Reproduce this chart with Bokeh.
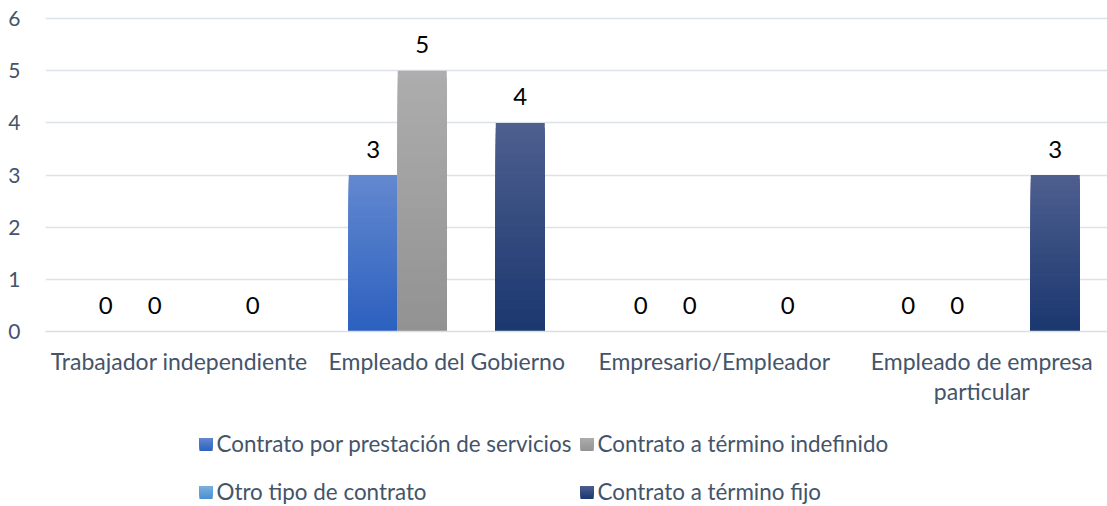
from bokeh.plotting import figure
from bokeh.layouts import column
from bokeh.models import Range1d, FixedTicker
from bokeh.core.properties import value
from bokeh.embed import file_html
from bokeh.resources import INLINE

categories = ["Trabajador independiente", "Empleado del Gobierno",
              "Empresario/Empleador", "Empleado de empresa\nparticular"]
series_names = ["Contrato por prestación de servicios", "Contrato a término indefinido",
                "Otro tipo de contrato", "Contrato a término fijo"]
servicios = [0, 3, 0, 0]
indefinido = [0, 5, 0, 0]
otro = [None, None, None, None]
fijo = [0, 4, 0, 3]
y_ticks = [0, 1, 2, 3, 4, 5, 6]

series_values = [servicios, indefinido, otro, fijo]
grad_top = ["#6388CF", "#ADADAD", "#7DB0E0", "#4E5F8F"]
grad_bottom = ["#2C61BF", "#929292", "#4A8FD0", "#1A376F"]

FONT = "Lato"
TXT = "#44546A"
W = 1107
H_MAIN = 416
H_LEG = 90
LEFT = 45

p = figure(width=W, height=H_MAIN, output_backend="svg", toolbar_location=None,
           x_range=Range1d(0, 3.97), y_range=Range1d(0, 6.04),
           min_border_left=LEFT, min_border_right=0, min_border_top=16, min_border_bottom=85)
p.outline_line_color = None
p.background_fill_color = "white"
p.border_fill_color = "white"

bar_w = 0.1832
centers = [i + 0.5 for i in range(len(categories))]

def hex2rgb(h):
    h = h.lstrip("#")
    return [int(h[k:k + 2], 16) for k in (0, 2, 4)]

def mix(c1, c2, t):
    a, b = hex2rgb(c1), hex2rgb(c2)
    return "#%02x%02x%02x" % tuple(int(round(a[k] + (b[k] - a[k]) * t)) for k in range(3))

N = 40
lbl_x, lbl_y, lbl_t = [], [], []
for si, vals in enumerate(series_values):
    L, R, B, T, C = [], [], [], [], []
    for ci, v in enumerate(vals):
        if v is None:
            continue
        xc = centers[ci] + (si - 1.5) * bar_w
        lbl_x.append(xc)
        lbl_y.append(v)
        lbl_t.append(str(v))
        if v > 0:
            # slices drawn from the top down, each reaching the base -> no seams
            for k in range(N - 1, -1, -1):
                L.append(xc - bar_w / 2)
                R.append(xc + bar_w / 2)
                B.append(0)
                T.append(v * (k + 1) / N)
                C.append(mix(grad_bottom[si], grad_top[si], (k + 0.5) / N))
    if L:
        p.quad(left=L, right=R, bottom=B, top=T, fill_color=C, line_color=None)

p.text(x=lbl_x, y=lbl_y, text=lbl_t, text_align="center", text_baseline="middle",
       y_offset=-26, text_font=value(FONT), text_font_size="24px", text_color="#000000")

# axes
p.xaxis.ticker = FixedTicker(ticks=centers)
p.xaxis.major_label_overrides = {c: lab for c, lab in zip(centers, categories)}
p.xaxis.major_tick_line_color = None
p.xaxis.minor_tick_line_color = None
p.xaxis.axis_line_color = "#D9DEE6"
p.xaxis.axis_line_width = 1.5
p.xaxis.major_label_standoff = 9
p.xaxis.major_label_text_font = FONT
p.xaxis.major_label_text_font_size = "23px"
p.xaxis.major_label_text_line_height = 1.08
p.xaxis.major_label_text_color = TXT

p.yaxis.ticker = FixedTicker(ticks=y_ticks)
p.yaxis.major_tick_line_color = None
p.yaxis.minor_tick_line_color = None
p.yaxis.axis_line_color = None
p.yaxis.major_label_standoff = 19
p.yaxis.major_label_text_font = FONT
p.yaxis.major_label_text_font_size = "21px"
p.yaxis.major_label_text_color = TXT

p.xgrid.grid_line_color = None
p.ygrid.grid_line_color = "#DDE2E9"
p.ygrid.grid_line_width = 1.5

# legend panel (pixel coordinates of the page; its frame is aligned with the chart frame)
lg = figure(width=W, height=H_LEG, output_backend="svg", toolbar_location=None,
            x_range=Range1d(LEFT, W), y_range=Range1d(H_MAIN + H_LEG, H_MAIN),
            x_axis_type=None, y_axis_type=None,
            min_border_left=LEFT, min_border_right=0, min_border_top=0, min_border_bottom=0)
lg.outline_line_color = None
lg.xgrid.grid_line_color = None
lg.ygrid.grid_line_color = None

col_x = [199, 580]
row_y = [443, 491]
sq = 13
for si, name in enumerate(series_names):
    r, c = divmod(si, 2)
    x0 = col_x[c]
    yc = row_y[r] + 1
    n = 10
    for k in range(n - 1, -1, -1):
        lg.quad(left=[x0], right=[x0 + sq], top=[yc - sq / 2], bottom=[yc - sq / 2 + sq * (k + 1) / n],
                fill_color=mix(grad_bottom[si], grad_top[si], 1 - (k + 0.5) / n), line_color=None)
    lg.text(x=[x0 + sq + 4], y=[row_y[r]], text=[name], text_align="left", text_baseline="middle",
            text_font=value(FONT), text_font_size="22.4px", text_color=TXT)

open("out.html", "w").write(file_html(column(p, lg), INLINE))
